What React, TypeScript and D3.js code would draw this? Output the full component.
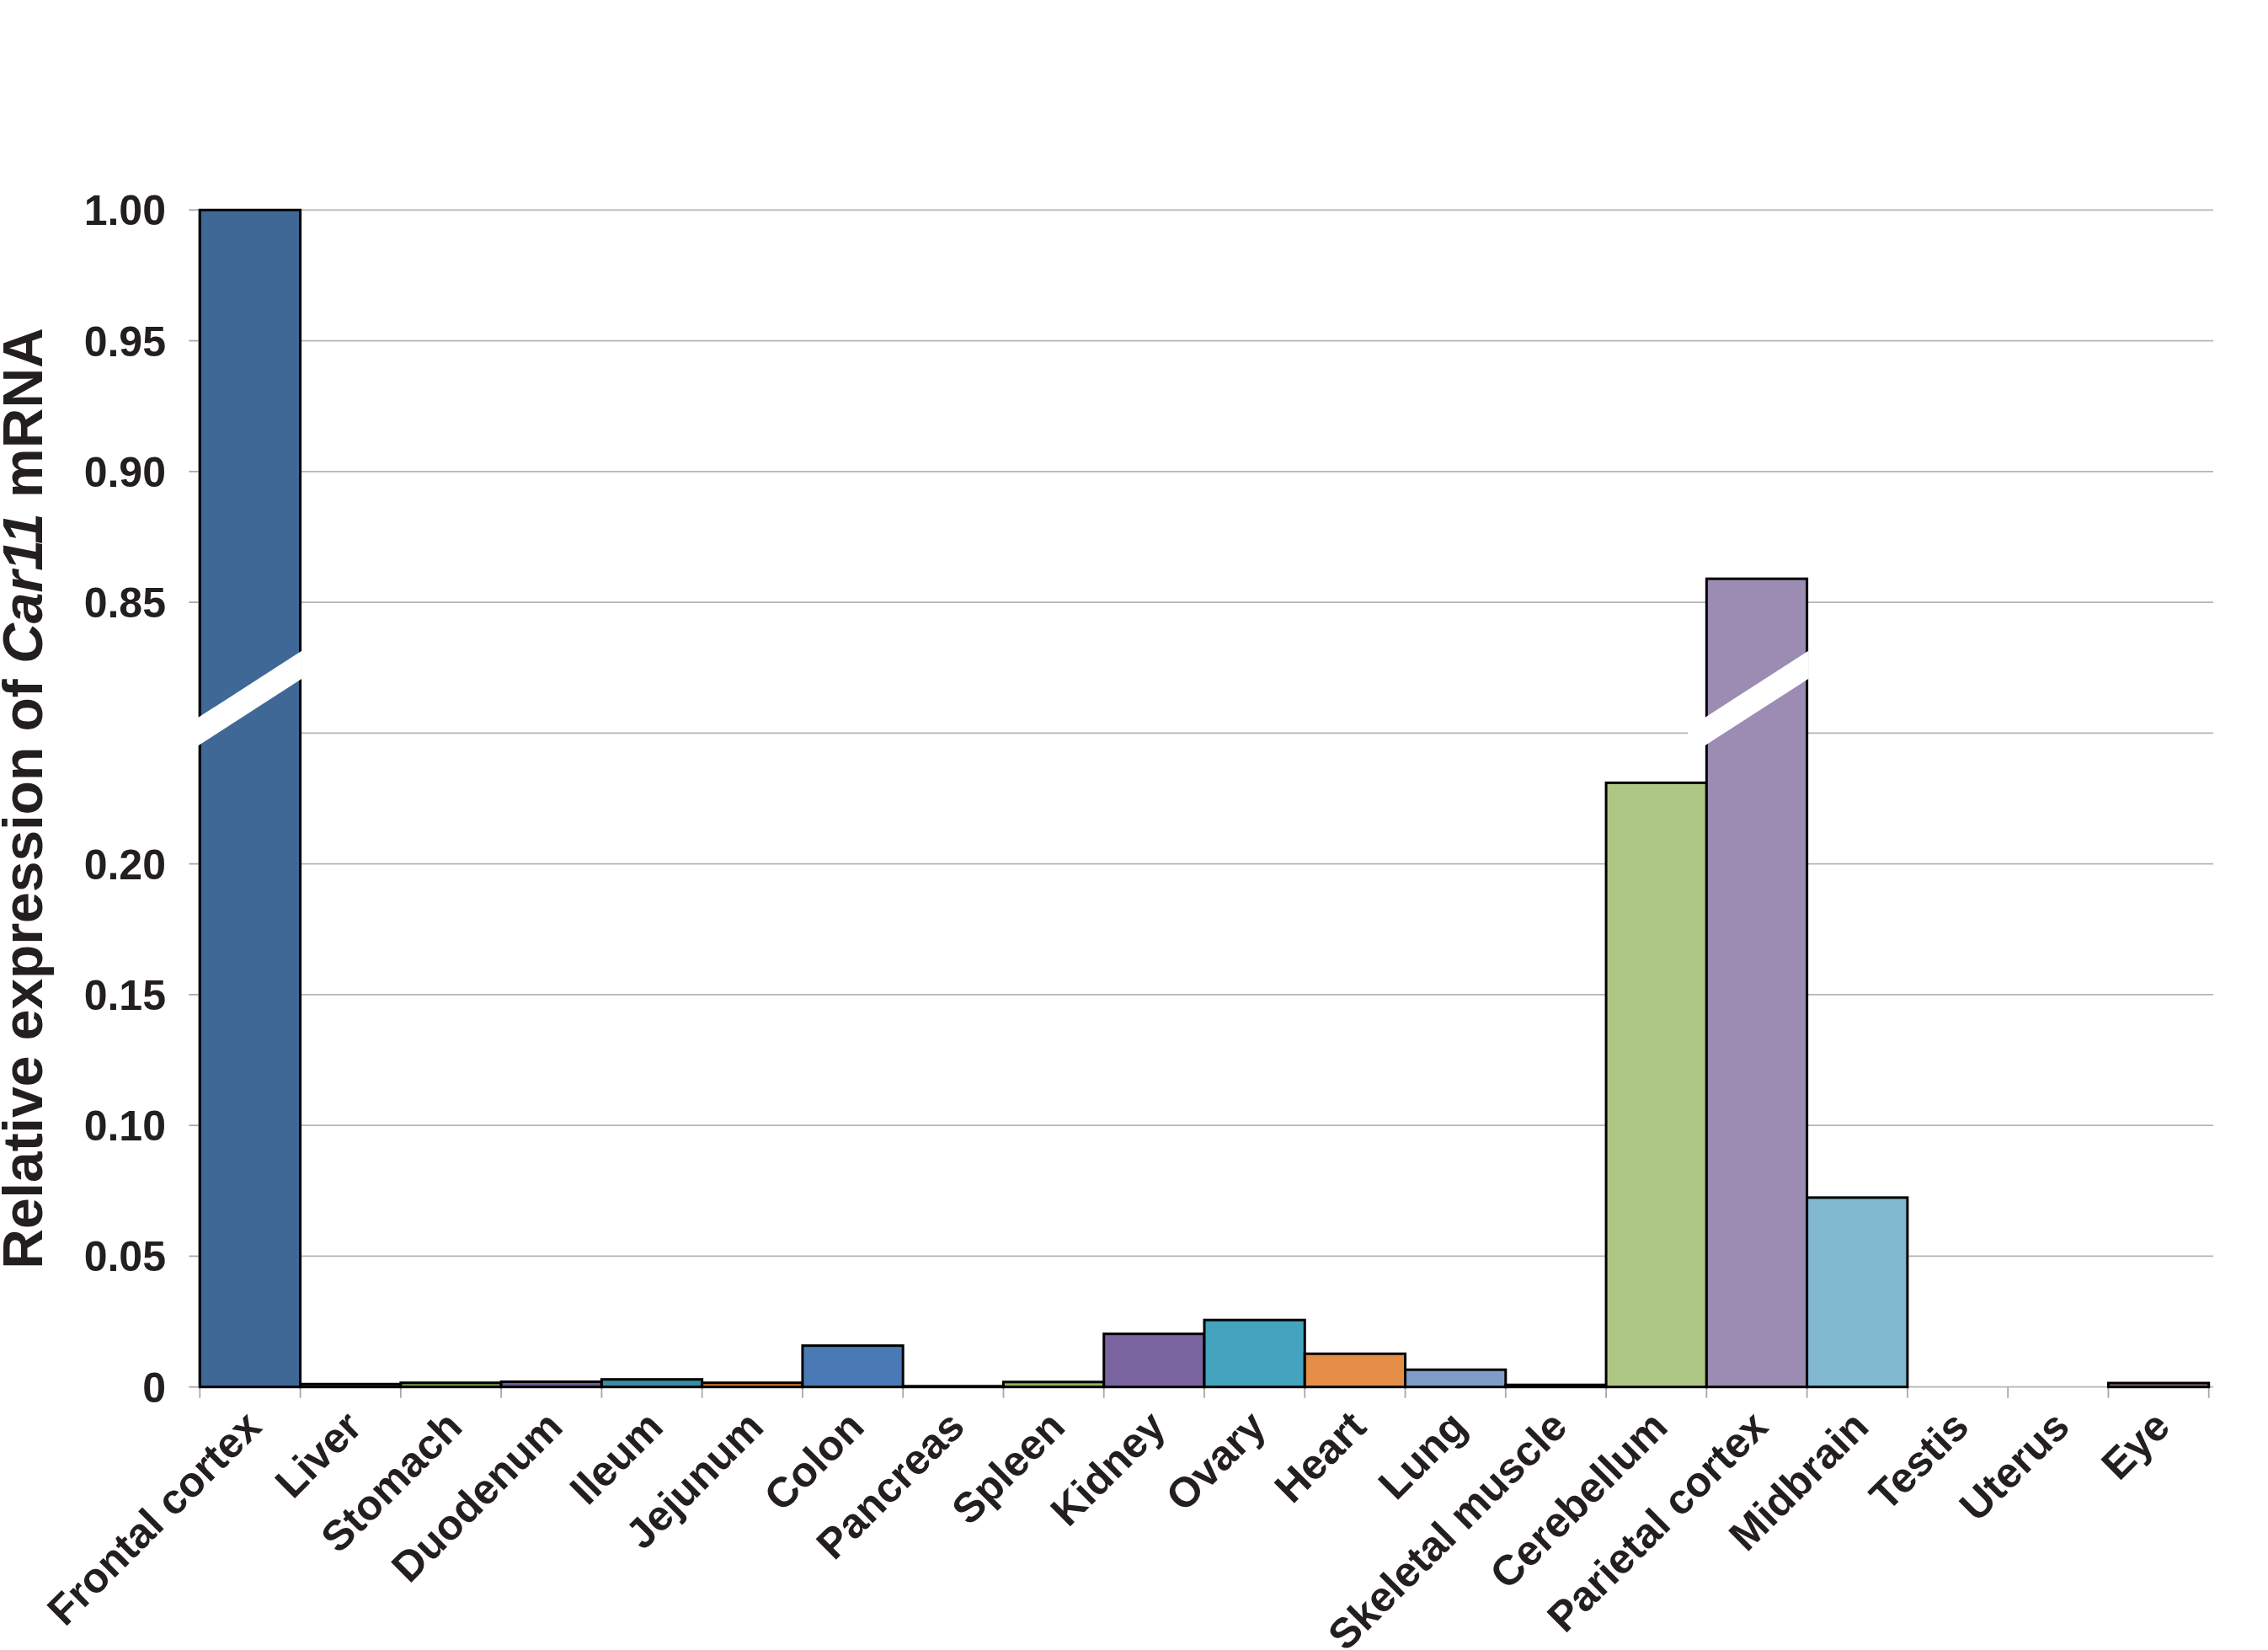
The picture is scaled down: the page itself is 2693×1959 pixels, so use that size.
import * as d3 from "d3";

// tissues along the x axis
const categories = [
  "Frontal cortex", "Liver", "Stomach", "Duodenum", "Ileum", "Jejunum", "Colon",
  "Pancreas", "Spleen", "Kidney", "Ovary", "Heart", "Lung", "Skeletal muscle",
  "Cerebellum", "Parietal cortex", "Midbrain", "Testis", "Uterus", "Eye",
];

// relative Car11 mRNA
const values = [
  1.0, 0.0011, 0.0016, 0.002, 0.0029, 0.0016, 0.0158,
  0.0003, 0.0019, 0.0203, 0.0256, 0.0127, 0.0066, 0.0008,
  0.231, 0.859, 0.0724, 0, 0, 0.0015,
];

const colors = [
  "#3f6897", "#8a3634", "#789a48", "#6f5a96", "#3a8da4", "#d27a36", "#4a7ab5",
  "#c0504d", "#94b35a", "#7b65a0", "#44a3bf", "#e38d46", "#7f9dc8", "#d9807e",
  "#afc784", "#9c8cb3", "#80b9cf", "#f9b074", "#2c4d75", "#9e6b6b",
];

// y axis: 0..0.25 below the break, 0.80..1.00 above it
const breakLow = 0.25;
const breakHigh = 0.8;
const tickValues = [0, 0.05, 0.1, 0.15, 0.2, 0.25, 0.85, 0.9, 0.95, 1.0];
const tickLabels = ["0", "0.05", "0.10", "0.15", "0.20", "", "0.85", "0.90", "0.95", "1.00"];

// bars that get the white break slash
const brokenBars = ["Frontal cortex", "Parietal cortex"];

const width = 2693;
const height = 1959;
const marginLeft = 237.3;
const plotRight = 2622.7;
const gridRight = 2628;
const yTop = 249.3;
const yZero = 1646.7;

const font = "'Liberation Sans', Arial, sans-serif";
const ink = "#231f20";

export default function App() {
  const x = d3.scaleBand().domain(categories).range([marginLeft, plotRight]).padding(0);

  const yBreak = yZero - (yZero - yTop) * (5 / 9);
  const y = d3.scaleLinear()
    .domain([0, breakLow, breakHigh, 1])
    .range([yZero, yBreak, yBreak, yTop]);

  const bw = x.bandwidth();

  // white slash across a broken bar
  const slash = (name: string) => {
    const L = x(name)!;
    const R = L + bw;
    const g = y(breakLow);
    const x1 = L - 22;
    const x2 = R + 2;
    const top = (xx: number) => g - 19.7 - 0.645 * (xx - L);
    const t = 33.3;
    return `M${x1},${top(x1)}L${x2},${top(x2)}L${x2},${top(x2) + t}L${x1},${top(x1) + t}Z`;
  };

  return (
    <svg
      width={width}
      height={height}
      viewBox={`0 0 ${width} ${height}`}
      style={{ position: "absolute", left: 0, top: 0, background: "#fff" }}
    >
      <rect x={0} y={0} width={width} height={height} fill="#fff" />

      {/* grid lines */}
      <g stroke="#b5b5b5" strokeWidth={1.8}>
        {tickValues.map((v, i) => (
          <line key={i} x1={marginLeft} x2={gridRight} y1={y(v)} y2={y(v)} />
        ))}
      </g>

      {/* axis lines and ticks */}
      <g stroke="#a8a8a8" strokeWidth={1.8}>
        <line x1={marginLeft - 1} x2={marginLeft - 1} y1={yTop} y2={yZero} />
        {tickValues.map((v, i) => (
          <line key={i} x1={marginLeft - 13} x2={marginLeft} y1={y(v)} y2={y(v)} />
        ))}
        {[...categories.map((c) => x(c)!), plotRight].map((xx, i) => (
          <line key={"t" + i} x1={xx} x2={xx} y1={yZero} y2={yZero + 13} />
        ))}
      </g>

      {/* bars */}
      <g stroke="#000" strokeWidth={3}>
        {categories.map((c, i) =>
          values[i] > 0 ? (
            <rect
              key={c}
              x={x(c)}
              y={y(values[i])}
              width={bw}
              height={yZero - y(values[i])}
              fill={colors[i]}
            />
          ) : null
        )}
      </g>

      {/* axis breaks */}
      <g fill="#fff">
        {brokenBars.map((c) => (
          <path key={c} d={slash(c)} />
        ))}
      </g>

      {/* y tick labels */}
      <g fontFamily={font} fontWeight="bold" fontSize={50} fill={ink} textAnchor="end">
        {tickValues.map((v, i) => (
          <text key={i} x={197} y={y(v)} dy="0.36em">
            {tickLabels[i]}
          </text>
        ))}
      </g>

      {/* x labels */}
      <g fontFamily={font} fontWeight="bold" fontSize={50} fill={ink} textAnchor="end">
        {categories.map((c) => (
          <text
            key={c}
            transform={`translate(${x(c)! + bw / 2 + 16},${yZero + 50}) rotate(-45)`}
          >
            {c}
          </text>
        ))}
      </g>

      {/* y title */}
      <text
        transform={`translate(50,${(yTop + yZero) / 2}) rotate(-90)`}
        fontFamily={font}
        fontWeight="bold"
        fontSize={66}
        fill={ink}
        textAnchor="middle"
      >
        Relative expression of <tspan fontStyle="italic">Car11</tspan> mRNA
      </text>
    </svg>
  );
}
